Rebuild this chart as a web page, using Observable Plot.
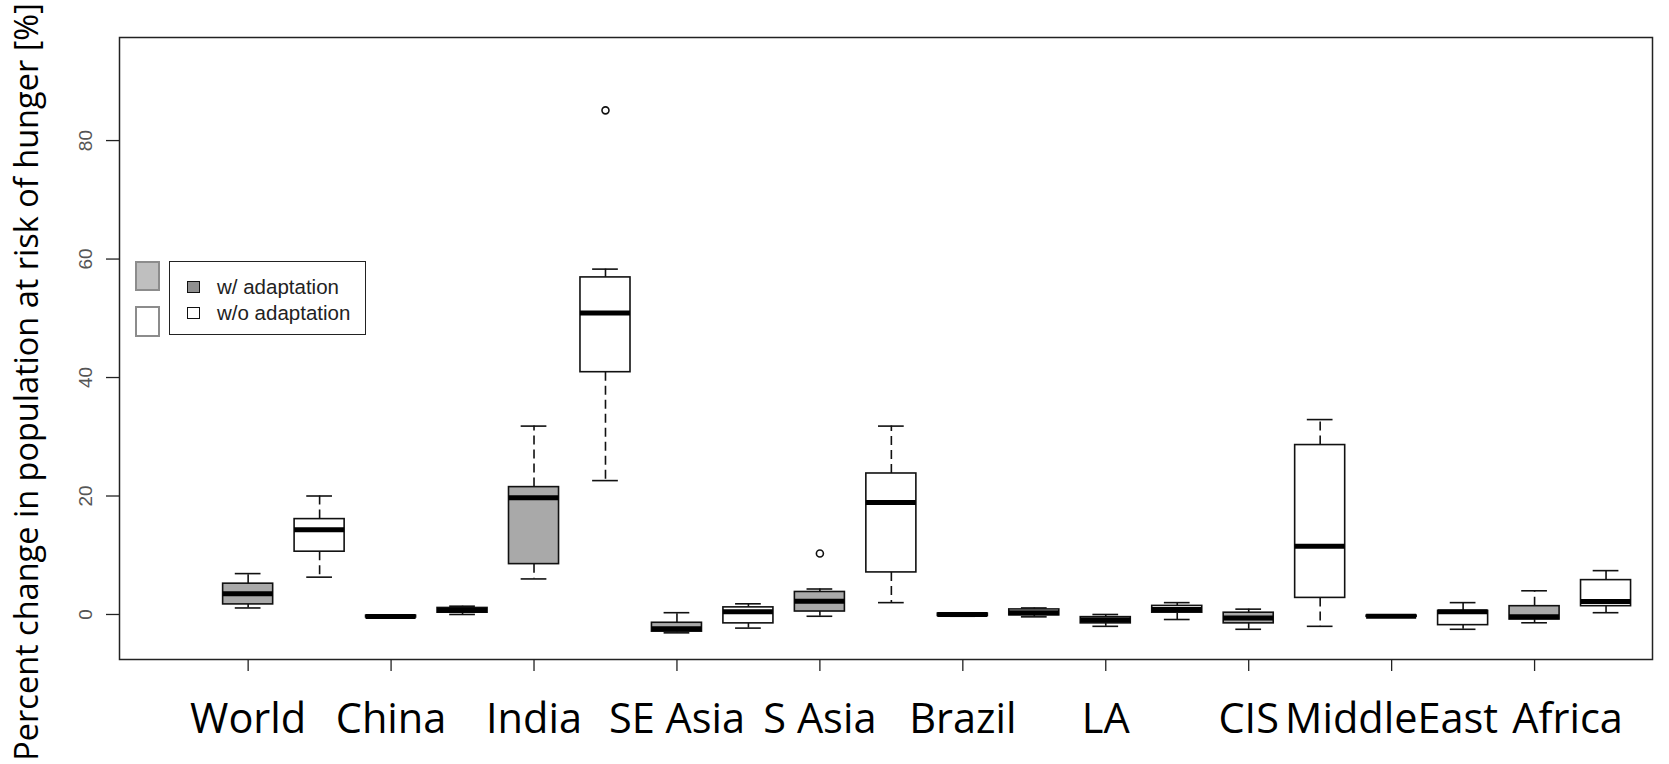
<!DOCTYPE html>
<html>
<head>
<meta charset="utf-8">
<script src="https://cdn.jsdelivr.net/npm/d3@7"></script>
<script src="https://cdn.jsdelivr.net/npm/@observablehq/plot@0.6"></script>
<style>
  html, body { margin: 0; padding: 0; background: #fff; }
  #wrap { position: relative; width: 1669px; height: 764px; overflow: hidden; }
  .patch { position: absolute; box-sizing: border-box; border: 2px solid #8c8c8c; }
  #legend { position: absolute; box-sizing: border-box; border: 1.5px solid #222; background: #fff;
            font-family: "Liberation Sans", Arial, sans-serif; font-size: 20.5px; color: #222; }
  .lrow { position: absolute; left: 17px; display: flex; align-items: center; white-space: nowrap; }
  .lsw { width: 13px; height: 12px; box-sizing: border-box; border: 1.5px solid #111; margin-right: 17px; flex: none; }
</style>
</head>
<body>
<div id="wrap"></div>
<script>
// ---------- data ----------
const regions = ["World", "China", "India", "SE Asia", "S Asia", "Brazil", "LA", "CIS", "MiddleEast", "Africa"];
const scenarios = ["w/ adaptation", "w/o adaptation"];

// w/ adaptation (grey boxes)
const adaptLo  = [1.1, -0.6,  6.0, -3.1, -0.3, -0.3, -2.0, -2.5, -0.45, -1.4];
const adaptQ1  = [1.7, -0.5,  8.5, -2.9,  0.5, -0.25, -1.5, -1.5, -0.4, -0.85];
const adaptMed = [3.5, -0.35, 19.7, -2.4, 2.25, 0.0, -0.95, -0.6, -0.3, -0.4];
const adaptQ3  = [5.2, -0.2, 21.5, -1.4,  3.8,  0.15, -0.45, 0.3, -0.2, 1.4];
const adaptHi  = [6.9, -0.1, 31.8,  0.3,  4.3,  0.2,  0.0,  0.9, -0.15, 4.0];

// w/o adaptation (white boxes)
const noadLo  = [6.3,  0.0, 22.6, -2.3,  2.0, -0.4, -0.85, -2.0, -2.5, 0.3];
const noadQ1  = [10.6, 0.3, 40.9, -1.5,  7.1, -0.15, 0.3,  2.8, -1.8, 1.4];
const noadMed = [14.3, 0.7, 50.9,  0.45, 18.9, 0.3,  0.85, 11.5, 0.45, 2.2];
const noadQ3  = [16.1, 1.1, 56.9,  1.2, 23.8, 0.85, 1.45, 28.6, 0.6, 5.8];
const noadHi  = [20.0, 1.4, 58.3,  1.8, 31.8, 1.1,  2.0,  32.9, 2.0, 7.4];

// outliers
const outRegion = ["India", "S Asia"];
const outScenario = ["w/o adaptation", "w/ adaptation"];
const outValue = [85.1, 10.3];

const yTicks = [0, 20, 40, 60, 80];
const yTitle = "Percent change in population at risk of hunger [%]";

// ---------- build tables ----------
const posOf = (region, scen) => 2 * regions.indexOf(region) + (scen === scenarios[0] ? 1 : 2);
const rows = [];
regions.forEach((r, i) => {
  rows.push({region: r, scen: scenarios[0], pos: posOf(r, scenarios[0]),
             lo: adaptLo[i], q1: adaptQ1[i], med: adaptMed[i], q3: adaptQ3[i], hi: adaptHi[i]});
  rows.push({region: r, scen: scenarios[1], pos: posOf(r, scenarios[1]),
             lo: noadLo[i], q1: noadQ1[i], med: noadMed[i], q3: noadQ3[i], hi: noadHi[i]});
});
const outliers = outRegion.map((r, i) => ({pos: posOf(r, outScenario[i]), value: outValue[i]}));
const tickPos = regions.map(r => posOf(r, scenarios[0]));

const halfBox = 0.35, halfStaple = 0.18;
const lineW = 1.6;
const dash = "9,5";

const chart = Plot.plot({
  width: 1669,
  height: 764,
  marginLeft: 119,
  marginRight: 17,
  marginTop: 37,
  marginBottom: 105,
  style: {background: "white", fontFamily: "'Liberation Sans', Arial, sans-serif", overflow: "visible"},
  x: {type: "linear", domain: [-0.8, 20.65]},
  y: {domain: [-7.6, 97.4]},
  marks: [
    // whiskers (dashed)
    Plot.ruleX(rows, {x: "pos", y1: "q3", y2: "hi", stroke: "#111", strokeWidth: lineW, strokeDasharray: dash}),
    Plot.ruleX(rows, {x: "pos", y1: "q1", y2: "lo", stroke: "#111", strokeWidth: lineW, strokeDasharray: dash}),
    // staples
    Plot.ruleY(rows, {y: "hi", x1: d => d.pos - halfStaple, x2: d => d.pos + halfStaple, stroke: "#111", strokeWidth: lineW}),
    Plot.ruleY(rows, {y: "lo", x1: d => d.pos - halfStaple, x2: d => d.pos + halfStaple, stroke: "#111", strokeWidth: lineW}),
    // boxes
    Plot.rect(rows.filter(d => d.scen === scenarios[0]),
      {x1: d => d.pos - halfBox, x2: d => d.pos + halfBox, y1: "q1", y2: "q3", fill: "#a9a9a9", stroke: "#111", strokeWidth: lineW}),
    Plot.rect(rows.filter(d => d.scen === scenarios[1]),
      {x1: d => d.pos - halfBox, x2: d => d.pos + halfBox, y1: "q1", y2: "q3", fill: "white", stroke: "#111", strokeWidth: lineW}),
    // medians
    Plot.ruleY(rows, {y: "med", x1: d => d.pos - halfBox, x2: d => d.pos + halfBox, stroke: "#000", strokeWidth: 5}),
    // outliers
    Plot.dot(outliers, {x: "pos", y: "value", r: 3.5, stroke: "#111", strokeWidth: lineW, fill: "white"}),
    // frame
    Plot.frame({stroke: "#222", strokeWidth: 1.5}),
    // y axis: ticks and rotated labels
    Plot.axisY(yTicks, {tickSize: 13, fill: "none", stroke: "#222", strokeWidth: 1.3, label: null}),
    Plot.axisY(yTicks, {tickSize: 0, tickRotate: -90, tickPadding: 34, lineAnchor: "middle", textAnchor: "middle",
      fontSize: 19, fill: "#555", label: null}),
    // x axis: ticks and region labels
    Plot.axisX(tickPos, {tickSize: 12, fill: "none", stroke: "#222", strokeWidth: 1.3, label: null}),
    Plot.axisX(tickPos.slice(0, 9), {tickSize: 0, tickPadding: 44, tickFormat: d => regions[(d - 1) / 2],
      fontSize: 41.5, fontFamily: "'Open Sans', sans-serif", fill: "#000", label: null}),
    Plot.axisX(tickPos.slice(9), {tickSize: 0, tickPadding: 44, dx: 33, tickFormat: d => regions[(d - 1) / 2],
      fontSize: 41.5, fontFamily: "'Open Sans', sans-serif", fill: "#000", label: null}),
    // y title
    Plot.text([yTitle], {frameAnchor: "left", text: d => d, rotate: -90, textAnchor: "middle", lineAnchor: "middle",
      dx: -92, dy: 33.5, fontSize: 32.5, fontFamily: "'Open Sans', sans-serif", fill: "#000"})
  ]
});

const wrap = document.getElementById("wrap");
wrap.appendChild(chart);

// legend (HTML overlay)
const patchG = document.createElement("div");
patchG.className = "patch";
Object.assign(patchG.style, {left: "135px", top: "261px", width: "25px", height: "30px", background: "#bfbfbf"});
const patchW = document.createElement("div");
patchW.className = "patch";
Object.assign(patchW.style, {left: "135px", top: "306px", width: "25px", height: "31px", background: "#fff"});
wrap.appendChild(patchG);
wrap.appendChild(patchW);

const legend = document.createElement("div");
legend.id = "legend";
Object.assign(legend.style, {left: "169px", top: "261px", width: "197px", height: "74px"});
const fills = ["#8f8f8f", "#fff"];
const tops = [13, 39];
scenarios.forEach((s, i) => {
  const row = document.createElement("div");
  row.className = "lrow";
  row.style.top = tops[i] + "px";
  const sw = document.createElement("div");
  sw.className = "lsw";
  sw.style.background = fills[i];
  const tx = document.createElement("span");
  tx.textContent = s;
  row.appendChild(sw);
  row.appendChild(tx);
  legend.appendChild(row);
});
wrap.appendChild(legend);
</script>
</body>
</html>
